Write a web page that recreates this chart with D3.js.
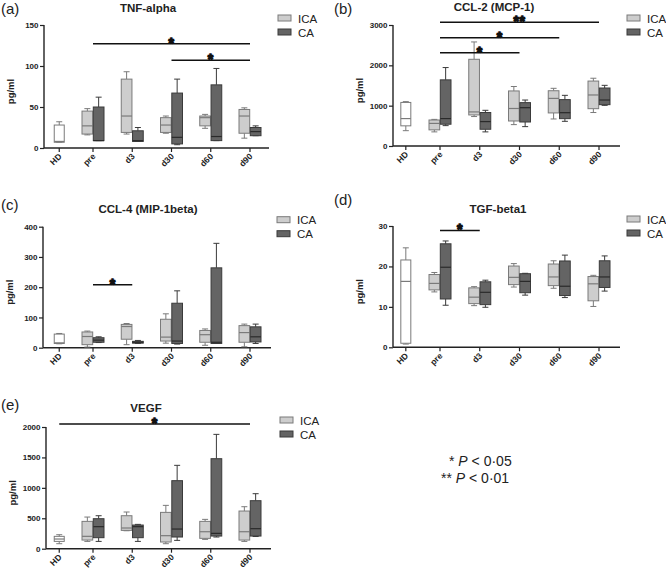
<!DOCTYPE html>
<html>
<head>
<meta charset="utf-8">
<script src="https://cdn.jsdelivr.net/npm/d3@7/dist/d3.min.js"></script>
<style>
  html, body { margin: 0; padding: 0; background: #fff; }
  svg { display: block; }
  text { font-family: "Liberation Sans", Arial, sans-serif; }
</style>
</head>
<body>
<svg id="chart" width="666" height="573"></svg>
<script>
// ---------------- DATA ----------------
const categories = ["HD", "pre", "d3", "d30", "d60", "d90"];
const timepoints = ["pre", "d3", "d30", "d60", "d90"];
const seriesNames = ["ICA", "CA"];

// box stats: [min, q1, median, q3, max]
const tnfHD  = [7, 7, 8, 28, 32];
const tnfICA = [[16, 17, 27, 45, 48], [17, 19, 39, 84, 93], [18, 19, 28, 37, 39], [24, 27, 37, 39, 41], [12, 18, 39, 47, 49]];
const tnfCA  = [[9, 9, 9, 50, 62], [8, 8, 9, 21, 25], [4, 5, 13, 67, 84], [9, 9, 14, 77, 97], [15, 15, 20, 25, 27]];
const tnfTicks = [0, 50, 100, 150];
const tnfSig = [["pre", "d90", 127, "*"], ["d30", "d90", 107, "*"]];

const ccl2HD  = [380, 500, 680, 1080, 1100];
const ccl2ICA = [[350, 400, 560, 645, 660], [730, 770, 845, 2150, 2580], [530, 620, 930, 1365, 1475], [670, 820, 1180, 1370, 1430], [830, 925, 1265, 1610, 1680]];
const ccl2CA  = [[505, 540, 680, 1640, 1945], [350, 415, 605, 830, 885], [480, 595, 950, 1075, 1140], [612, 678, 826, 1150, 1256], [1008, 1025, 1140, 1438, 1504]];
const ccl2Ticks = [0, 1000, 2000, 3000];
const ccl2Sig = [["pre", "d90", 3066, "**"], ["pre", "d60", 2686, "*"], ["pre", "d30", 2314, "*"]];

const ccl4HD  = [13, 14, 16, 45, 47];
const ccl4ICA = [[2, 10, 37, 52, 55], [10, 28, 70, 77, 80], [15, 22, 35, 94, 112], [8, 18, 43, 57, 62], [3, 18, 50, 73, 78]];
const ccl4CA  = [[17, 18, 25, 33, 36], [14, 15, 18, 21, 24], [12, 14, 22, 147, 188], [14, 14, 18, 264, 345], [14, 19, 36, 69, 78]];
const ccl4Ticks = [0, 100, 200, 300, 400];
const ccl4Sig = [["pre", "d3", 208, "*"]];

const tgfHD  = [0.8, 1, 16.3, 21.6, 24.6];
const tgfICA = [[13.7, 14.2, 15.8, 18, 18.5], [10.3, 10.8, 12.4, 14.7, 15], [14.9, 15.5, 17.3, 20.1, 20.7], [14.6, 15.25, 17.4, 20.6, 21.4], [10.1, 11.5, 15.7, 17.5, 17.8]];
const tgfCA  = [[10.4, 11.95, 19.8, 25.6, 26.3], [9.9, 10.55, 13.6, 16.2, 16.6], [12.9, 13.5, 16.3, 18.2, 18.3], [12.3, 12.8, 15.1, 21.35, 22.8], [13.9, 14.8, 17.4, 21.4, 22.6]];
const tgfTicks = [0, 10, 20, 30];
const tgfSig = [["pre", "d3", 28.9, "*"]];

const vegfHD  = [82, 120, 159, 203, 230];
const vegfICA = [[120, 142, 203, 449, 520], [295, 301, 340, 542, 603], [82, 110, 214, 597, 712], [153, 170, 279, 449, 482], [120, 142, 279, 619, 690]];
const vegfCA  = [[120, 181, 362, 493, 542], [120, 181, 362, 389, 400], [137, 192, 323, 1118, 1370], [192, 208, 252, 1479, 1879], [200, 208, 329, 789, 904]];
const vegfTicks = [0, 500, 1000, 1500, 2000];
const vegfSig = [["HD", "d90", 2049, "*"]];

const panelLabels = ["(a)", "(b)", "(c)", "(d)", "(e)"];
const panelTitles = ["TNF-alpha", "CCL-2 (MCP-1)", "CCL-4 (MIP-1beta)", "TGF-beta1", "VEGF"];
const footnotes = [["* ", "P", " < 0·05"], ["** ", "P", " < 0·01"]];

// ---------------- LAYOUT ----------------
const panels = [
  { hd: tnfHD,  ica: tnfICA,  ca: tnfCA,  ticks: tnfTicks,  sig: tnfSig,
    axisX: 44,  top: 25,    bottom: 148,   end: 269, pre: 93,  last: 250, lab: [1, 14],  title: [148, 12] },
  { hd: ccl2HD, ica: ccl2ICA, ca: ccl2CA, ticks: ccl2Ticks, sig: ccl2Sig,
    axisX: 393, top: 25,    bottom: 146,   end: 620, pre: 440, last: 599, lab: [334, 14], title: [494, 11] },
  { hd: ccl4HD, ica: ccl4ICA, ca: ccl4CA, ticks: ccl4Ticks, sig: ccl4Sig,
    axisX: 43,  top: 226.7, bottom: 347.7, end: 271, pre: 93,  last: 250, lab: [1, 210], title: [148, 213] },
  { hd: tgfHD,  ica: tgfICA,  ca: tgfCA,  ticks: tgfTicks, sig: tgfSig,
    axisX: 393, top: 226,   bottom: 347.3, end: 620, pre: 440, last: 599, lab: [334, 205], title: [498, 213] },
  { hd: vegfHD, ica: vegfICA, ca: vegfCA, ticks: vegfTicks, sig: vegfSig,
    axisX: 46,  top: 427,   bottom: 548.7, end: 271, pre: 93,  last: 250, lab: [1, 410], title: [146, 412] }
];

const colors = {
  icaFill: "#cdcdcd", icaStroke: "#7a7a7a", icaMed: "#7a7a7a",
  caFill: "#646464", caStroke: "#3a3a3a", caMed: "#2a2a2a",
  hdFill: "#ffffff", hdStroke: "#7a7a7a"
};

const svg = d3.select("#chart");

function drawBox(g, x0, x1, s, y, fill, stroke, med) {
  const cx = (x0 + x1) / 2, cap = 3;
  const [mn, q1, md, q3, mx] = s;
  g.append("line").attr("x1", cx).attr("x2", cx).attr("y1", y(mx)).attr("y2", y(q3))
    .attr("stroke", stroke).attr("stroke-width", 1);
  g.append("line").attr("x1", cx).attr("x2", cx).attr("y1", y(q1)).attr("y2", y(mn))
    .attr("stroke", stroke).attr("stroke-width", 1);
  g.append("line").attr("x1", cx - cap).attr("x2", cx + cap).attr("y1", y(mx)).attr("y2", y(mx))
    .attr("stroke", stroke).attr("stroke-width", 1);
  g.append("line").attr("x1", cx - cap).attr("x2", cx + cap).attr("y1", y(mn)).attr("y2", y(mn))
    .attr("stroke", stroke).attr("stroke-width", 1);
  g.append("rect").attr("x", x0).attr("width", x1 - x0)
    .attr("y", y(q3)).attr("height", Math.max(0.5, y(q1) - y(q3)))
    .attr("fill", fill).attr("stroke", stroke).attr("stroke-width", 1);
  g.append("line").attr("x1", x0).attr("x2", x1).attr("y1", y(md)).attr("y2", y(md))
    .attr("stroke", med).attr("stroke-width", 1.2);
}

panels.forEach((p, i) => {
  const g = svg.append("g");
  const yMax = p.ticks[p.ticks.length - 1];
  const y = d3.scaleLinear().domain([0, yMax]).range([p.bottom, p.top]);
  const xt = d3.scalePoint().domain(timepoints).range([p.pre, p.last]);
  const step = xt.step();
  const xPos = c => c === "HD" ? xt("pre") - 0.86 * step : xt(c);
  const bw = 11;

  // y axis
  const yAxis = d3.axisLeft(y).tickValues(p.ticks).tickSize(4).tickPadding(1.5).tickFormat(d3.format("d"));
  const ya = g.append("g").attr("transform", `translate(${p.axisX},0)`).call(yAxis);
  ya.select(".domain").attr("stroke", "#222").attr("stroke-width", 1.4).attr("d", `M-0,${p.top}V${p.bottom}`);
  ya.selectAll(".tick line").attr("stroke", "#222").attr("stroke-width", 1.2);
  ya.selectAll(".tick text").attr("font-size", 8).attr("font-weight", "bold").attr("fill", "#222")
    .style("font-family", "'Liberation Sans', Arial, sans-serif");

  // x axis
  const xScaleAll = d3.scaleOrdinal().domain(categories).range(categories.map(xPos));
  const xa = g.append("g").attr("transform", `translate(0,${p.bottom})`);
  xa.append("line").attr("x1", p.axisX).attr("x2", p.end).attr("y1", 0).attr("y2", 0)
    .attr("stroke", "#222").attr("stroke-width", 1.4);
  categories.forEach(c => {
    const x = xScaleAll(c);
    xa.append("line").attr("x1", x).attr("x2", x).attr("y1", 0).attr("y2", 4)
      .attr("stroke", "#222").attr("stroke-width", 1.2);
    xa.append("text").attr("transform", `translate(${x + 3},${9}) rotate(-45)`)
      .attr("text-anchor", "end").attr("font-size", 8.5).attr("font-weight", "bold")
      .attr("fill", "#222").text(c);
  });

  // boxes
  drawBox(g, xPos("HD") - 5, xPos("HD") + 5, p.hd, y, colors.hdFill, colors.hdStroke, colors.hdStroke);
  timepoints.forEach((t, j) => {
    const cx = xt(t);
    drawBox(g, cx - bw, cx - 0.3, p.ica[j], y, colors.icaFill, colors.icaStroke, colors.icaMed);
    drawBox(g, cx + 0.3, cx + bw, p.ca[j], y, colors.caFill, colors.caStroke, colors.caMed);
  });

  // significance bars
  p.sig.forEach(([a, b, v, lbl]) => {
    const x1 = xPos(a), x2 = xPos(b), yy = y(v);
    g.append("line").attr("x1", x1).attr("x2", x2).attr("y1", yy).attr("y2", yy)
      .attr("stroke", "#111").attr("stroke-width", 1.5);
    g.append("text").attr("x", (x1 + x2) / 2).attr("y", yy + 4).attr("text-anchor", "middle")
      .attr("font-size", 14).attr("font-weight", "bold").attr("fill", "#111")
      .attr("stroke", "#111").attr("stroke-width", 1.3).attr("stroke-linejoin", "round")
      .attr("letter-spacing", 0.5).text(lbl);
  });

  // y label
  g.append("text").attr("transform", `translate(${p.axisX - 30},${(p.top + p.bottom) / 2 + 5}) rotate(-90)`)
    .attr("text-anchor", "middle").attr("font-size", 9.5).attr("font-weight", "bold").attr("fill", "#222")
    .text("pg/ml");

  // title
  g.append("text").attr("x", p.title[0]).attr("y", p.title[1]).attr("text-anchor", "middle")
    .attr("font-size", 11.5).attr("font-weight", "bold").attr("fill", "#222").text(panelTitles[i]);

  // panel label
  g.append("text").attr("x", p.lab[0]).attr("y", p.lab[1]).attr("font-size", 15)
    .attr("fill", "#222").text(panelLabels[i]);

  // legend
  const lx = p.axisX + 234, ly = p.top - 10;
  const fills = [colors.icaFill, colors.caFill], strokes = [colors.icaStroke, colors.caStroke];
  seriesNames.forEach((s, k) => {
    g.append("rect").attr("x", lx).attr("y", ly + k * 14).attr("width", 13).attr("height", 6)
      .attr("fill", fills[k]).attr("stroke", strokes[k]).attr("stroke-width", 1);
    g.append("text").attr("x", lx + 20).attr("y", ly + k * 14 + 7.5).attr("font-size", 11.5)
      .attr("fill", "#222").text(s);
  });
});

// footnotes
const fx = [449, 441], fy = [466, 483];
footnotes.forEach((parts, k) => {
  const t = svg.append("text").attr("x", fx[k]).attr("y", fy[k]).attr("font-size", 14).attr("fill", "#222");
  t.append("tspan").text(parts[0]);
  t.append("tspan").attr("font-style", "italic").text(parts[1]);
  t.append("tspan").text(parts[2]);
});
</script>
</body>
</html>
